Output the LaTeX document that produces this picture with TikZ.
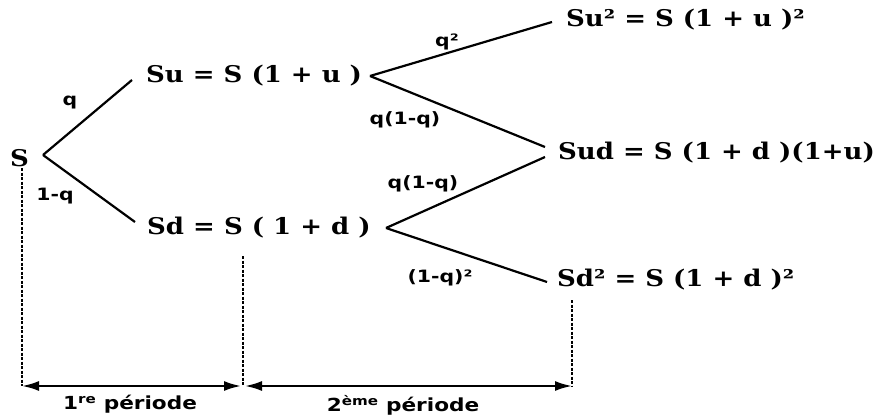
\documentclass[tikz,border=0pt]{standalone}
\usepackage{fontspec}
\setmainfont{DejaVu Serif}[FakeStretch=1.13]
\newfontfamily\labfont{DejaVu Sans}[FakeStretch=1.2]
\usetikzlibrary{arrows.meta}
\tikzset{
  main/.style={font=\fontsize{23}{27}\selectfont\bfseries, anchor=west, inner sep=0pt},
  prob/.style={font=\labfont\fontsize{17}{20}\selectfont\bfseries, inner sep=0pt},
  per/.style={font=\labfont\fontsize{18}{22}\selectfont\bfseries, inner sep=0pt},
  branch/.style={line width=2.2pt},
  guide/.style={dash pattern=on 3pt off 1.5pt, line width=2.6pt},
  span/.style={line width=2.2pt, {Latex[length=17pt,width=10pt]}-{Latex[length=17pt,width=10pt]}}
}
\begin{document}
\begin{tikzpicture}[x=1pt,y=-1pt]
\useasboundingbox (0,0) rectangle (880,417);
\fill[white] (0,0) rectangle (880,417);
% value nodes
\node[main] (s)   at (10,158)  {S};
\node[main] (su)  at (146,76)  {Su = S (1 + u )};
\node[main] (sd)  at (147,228) {Sd = S ( 1 + d )};
\node[main] (suu) at (566,20)  {Su² = S (1 + u )²};
\node[main] (sud) at (558,153) {Sud = S (1 + d )(1+u)};
\node[main] (sdd) at (557,280) {Sd² = S (1 + d )²};
% apexes
\coordinate (a0) at (43,155);
\coordinate (aU) at (370,76);
\coordinate (aD) at (386,228);
% branches
\draw[branch] (a0) -- ([xshift=-14pt,yshift=-4pt]su.west);
\draw[branch] (a0) -- ([xshift=-12pt,yshift=6pt]sd.west);
\draw[branch] (aU) -- ([xshift=-14pt,yshift=-2pt]suu.west);
\draw[branch] (aU) -- ([xshift=-13pt,yshift=6pt]sud.west);
\draw[branch] (aD) -- ([xshift=-13pt,yshift=-4pt]sud.west);
\draw[branch] (aD) -- ([xshift=-10pt,yshift=-2pt]sdd.west);
% probabilities
\node[prob] (p1) at (70,103)  {q};
\node[prob] (p2) at (55,196)  {1-q};
\node[prob] (p3) at (447,42)  {q²};
\node[prob] (p4) at (405,120) {q(1-q)};
\node[prob] (p5) at (423,184) {q(1-q)};
\node[prob] (p6) at (440,278) {(1-q)²};
% time guides
\coordinate (g0t) at (22,168);
\coordinate (g0b) at (22,386);
\coordinate (g1t) at (243,256);
\coordinate (g1b) at (243,386);
\coordinate (g2t) at (572,300);
\coordinate (g2b) at (572,386);
\draw[guide] (g0t) -- (g0b);
\draw[guide] (g1t) -- (g1b);
\draw[guide] (g2t) -- (g2b);
\draw[span] (g0b) -- ([xshift=-2pt]g1b);
\draw[span] ([xshift=2pt]g1b) -- (g2b);
\node[per] (l1) at (130,404) {1\textsuperscript{re} période};
\node[per] (l2) at (403,405) {2\textsuperscript{ème} période};
\end{tikzpicture}
\end{document}
